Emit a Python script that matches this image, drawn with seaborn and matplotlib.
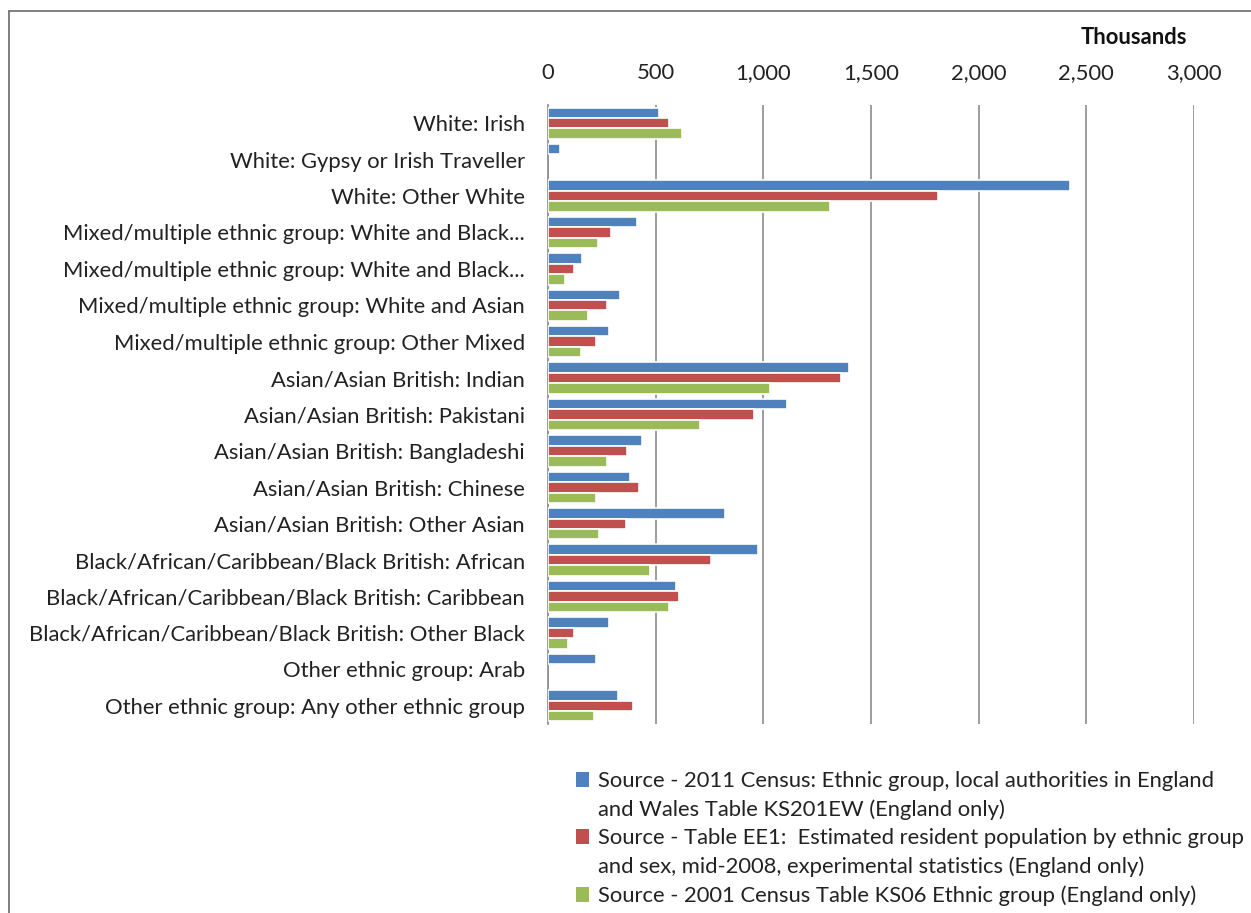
import numpy as np
import pandas as pd
import matplotlib
matplotlib.use("Agg")
import matplotlib.pyplot as plt
from matplotlib.ticker import FuncFormatter
from matplotlib.lines import Line2D
from matplotlib.patches import Patch
import seaborn as sns

categories = [
    "White: Irish",
    "White: Gypsy or Irish Traveller",
    "White: Other White",
    "Mixed/multiple ethnic group: White and Black Caribbean",
    "Mixed/multiple ethnic group: White and Black African",
    "Mixed/multiple ethnic group: White and Asian",
    "Mixed/multiple ethnic group: Other Mixed",
    "Asian/Asian British: Indian",
    "Asian/Asian British: Pakistani",
    "Asian/Asian British: Bangladeshi",
    "Asian/Asian British: Chinese",
    "Asian/Asian British: Other Asian",
    "Black/African/Caribbean/Black British: African",
    "Black/African/Caribbean/Black British: Caribbean",
    "Black/African/Caribbean/Black British: Other Black",
    "Other ethnic group: Arab",
    "Other ethnic group: Any other ethnic group",
]
tick_labels = [
    "White: Irish",
    "White: Gypsy or Irish Traveller",
    "White: Other White",
    "Mixed/multiple ethnic group: White and Black...",
    "Mixed/multiple ethnic group: White and Black...",
    "Mixed/multiple ethnic group: White and Asian",
    "Mixed/multiple ethnic group: Other Mixed",
    "Asian/Asian British: Indian",
    "Asian/Asian British: Pakistani",
    "Asian/Asian British: Bangladeshi",
    "Asian/Asian British: Chinese",
    "Asian/Asian British: Other Asian",
    "Black/African/Caribbean/Black British: African",
    "Black/African/Caribbean/Black British: Caribbean",
    "Black/African/Caribbean/Black British: Other Black",
    "Other ethnic group: Arab",
    "Other ethnic group: Any other ethnic group",
]
sources = [
    "Source - 2011 Census: Ethnic group, local authorities in England\nand Wales Table KS201EW (England only)",
    "Source - Table EE1:  Estimated resident population by ethnic group\nand sex, mid-2008, experimental statistics (England only)",
    "Source - 2001 Census Table KS06 Ethnic group (England only)",
]
census_2011 = [515, 55, 2425, 415, 160, 333, 282, 1397, 1110, 435, 381, 822, 977, 595, 281, 221, 327]
estimate_2008 = [560, np.nan, 1810, 293, 120, 273, 221, 1362, 955, 367, 421, 361, 756, 608, 120, np.nan, 393]
census_2001 = [620, np.nan, 1308, 234, 80, 188, 153, 1029, 707, 273, 221, 239, 474, 560, 94, np.nan, 213]
x_ticks = [0, 500, 1000, 1500, 2000, 2500, 3000]
colors = ["#4F81BD", "#C0504D", "#9BBB59"]

df = pd.DataFrame({
    "category": categories * 3,
    "source": [sources[0]] * 17 + [sources[1]] * 17 + [sources[2]] * 17,
    "value": census_2011 + estimate_2008 + census_2001,
})

sns.set_style("white")
plt.rcParams["font.family"] = ["Lato", "DejaVu Sans"]
FS = 15.8

W, H = 1251, 913
fig = plt.figure(figsize=(W / 100, H / 100), dpi=100)
ax = fig.add_axes([548 / W, 1 - 724 / H, (1194 - 548) / W, (724 - 105) / H])

sns.barplot(data=df, y="category", x="value", hue="source", order=categories,
            hue_order=sources, palette=colors, orient="h", width=0.86,
            saturation=1, edgecolor="white", linewidth=1.2, ax=ax, zorder=3,
            legend=False)

ax.set_xlim(0, 3000)
ax.set_xticks(x_ticks)
ax.xaxis.tick_top()
ax.xaxis.set_major_formatter(FuncFormatter(lambda v, p: f"{int(v):,}"))
ax.set_yticks(range(len(categories)))
ax.set_yticklabels(tick_labels)
ax.tick_params(axis="x", length=0, pad=16, labelsize=FS, labelcolor="#222222")
ax.tick_params(axis="y", length=0, pad=16.5, labelsize=FS, labelcolor="#222222")
ax.set_xlabel("")
ax.set_ylabel("")
ax.grid(axis="x", color="#8c8c8c", linewidth=1.2, zorder=0)
ax.set_axisbelow(True)
for s in ["top", "right", "bottom"]:
    ax.spines[s].set_visible(False)
ax.spines["left"].set_color("#8c8c8c")
ax.spines["left"].set_linewidth(1.2)

fig.text(1187 / W, 1 - 38 / H, "Thousands", ha="right", va="center",
         fontsize=FS, fontweight="bold", color="#111111")

# legend: marker aligned with the first line of each entry
handles, labels = [], []
for src, col in zip(sources, colors):
    lines = src.split("\n")
    for i, line in enumerate(lines):
        if i == 0:
            handles.append(Patch(facecolor=col, edgecolor="none"))
        else:
            handles.append(Patch(facecolor="none", edgecolor="none"))
        labels.append(line)
leg = ax.legend(handles, labels, loc="upper left",
                bbox_to_anchor=(576 / W, 1 - 771 / H),
                bbox_transform=fig.transFigure, frameon=False, fontsize=FS,
                handlelength=0.6, handleheight=0.7, handletextpad=0.4,
                labelspacing=0.38, borderaxespad=0, borderpad=0)
for t in leg.get_texts():
    t.set_color("#222222")

# outer chart frame
fig.add_artist(Line2D([8.5 / W, 8.5 / W], [0, 1 - 11 / H], transform=fig.transFigure,
                      color="#6a6a6a", linewidth=1.2))
fig.add_artist(Line2D([8.5 / W, 1], [1 - 11 / H, 1 - 11 / H], transform=fig.transFigure,
                      color="#6a6a6a", linewidth=1.2))

fig.savefig("out.png", dpi=100)
